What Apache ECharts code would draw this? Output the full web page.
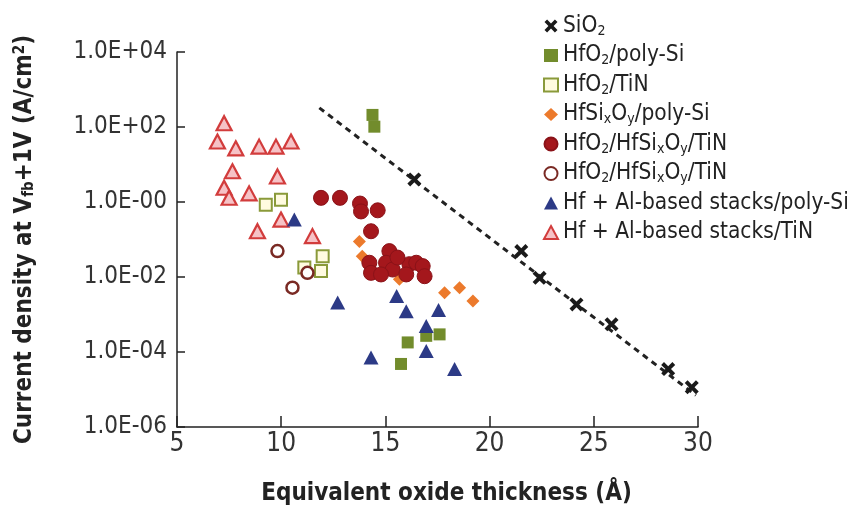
<!DOCTYPE html>
<html>
<head>
<meta charset="utf-8">
<title>Gate leakage vs EOT</title>
<script src="https://cdn.jsdelivr.net/npm/echarts@6/dist/echarts.min.js"></script>
<style>
  html, body { margin: 0; padding: 0; background: #fff; }
  #chart { width: 862px; height: 511px; }
</style>
</head>
<body>
<div id="chart"></div>
<script>
// Equivalent oxide thickness (Å) and current density (A/cm²) for each gate stack
const sio2Eot = [16.39, 21.52, 22.40, 24.17, 25.85, 28.57, 29.70];
const sio2J   = [4.0, 0.049, 0.0095, 0.00186, 5.5e-4, 3.5e-5, 1.15e-5];

// dashed trend line through the SiO2 points
const sio2FitEot = [11.83, 29.9];
const sio2FitJ   = [324, 7e-6];

const hfo2PolyEot = [14.38, 14.47, 16.07, 17.60, 15.75, 16.96];
const hfo2PolyJ   = [210, 102, 1.8e-4, 2.95e-4, 4.8e-5, 2.7e-4];

const hfo2TinEot = [9.26, 9.99, 11.11, 11.99, 11.91];
const hfo2TinJ   = [0.85, 1.15, 0.0178, 0.036, 0.0145];

const hfsioPolyEot = [13.75, 13.89, 15.67, 17.84, 18.56, 19.20];
const hfsioPolyJ   = [0.089, 0.036, 0.0087, 0.0038, 0.0052, 0.0023];

const stackFilledEot = [11.91, 12.82, 13.78, 13.83, 14.63, 14.31, 15.19, 14.23, 14.31,
                        15.03, 15.35, 16.15, 16.48, 16.79, 16.88, 16.00, 14.79, 15.58];
const stackFilledJ   = [1.29, 1.29, 0.91, 0.56, 0.60, 0.166, 0.049, 0.024, 0.0129,
                        0.024, 0.0158, 0.022, 0.024, 0.0195, 0.0105, 0.0117, 0.0117, 0.033];

const stackOpenEot = [9.82, 11.26, 10.54];
const stackOpenJ   = [0.049, 0.0129, 0.0052];

const hfAlPolyEot = [10.63, 12.71, 15.54, 16.00, 17.55, 16.96, 16.96, 14.31, 18.32];
const hfAlPolyJ   = [0.34, 0.0021, 0.0031, 0.00123, 0.00132, 4.9e-4, 1.07e-4, 7.1e-5, 3.5e-5];

const hfAlTinEot = [7.26, 6.94, 7.82, 8.94, 9.75, 10.47, 7.66, 9.82, 7.26, 7.50, 8.46, 9.99, 8.86, 11.50];
const hfAlTinJ   = [126, 41, 27, 30, 30, 41, 6.6, 4.8, 2.4, 1.3, 1.7, 0.34, 0.166, 0.123];

// axis ticks
const eotTicks = [5, 10, 15, 20, 25, 30];
const jTickLabels = ['1.0E-06', '1.0E-04', '1.0E-02', '1.0E-00', '1.0E+02', '1.0E+04'];

// series names and their legend texts (with sub/superscripts)
const seriesNames = [
  'SiO2', 'HfO2/poly-Si', 'HfO2/TiN', 'HfSixOy/poly-Si',
  'HfO2/HfSixOy/TiN A', 'HfO2/HfSixOy/TiN B',
  'Hf + Al-based stacks/poly-Si', 'Hf + Al-based stacks/TiN'
];
const legendTexts = [
  'SiO{s|2}', 'HfO{s|2}/poly-Si', 'HfO{s|2}/TiN', 'HfSi{s|x}O{s|y}/poly-Si',
  'HfO{s|2}/HfSi{s|x}O{s|y}/TiN', 'HfO{s|2}/HfSi{s|x}O{s|y}/TiN',
  'Hf + Al-based stacks/poly-Si', 'Hf + Al-based stacks/TiN'
];

const zip = (xs, ys) => xs.map((x, i) => [x, ys[i]]);
const FONT = "'Liberation Sans Narrow', 'DejaVu Sans Condensed', 'Liberation Sans', sans-serif";
const crossPath = 'path://M0,2L2,0L5,3L8,0L10,2L7,5L10,8L8,10L5,7L2,10L0,8L3,5Z';

const chart = echarts.init(document.getElementById('chart'), null, { renderer: 'canvas' });

chart.setOption({
  animation: false,
  backgroundColor: '#ffffff',
  grid: { left: 177, right: 164, top: 52, bottom: 84, containLabel: false },
  legend: {
    orient: 'vertical',
    left: 538,
    top: 9,
    itemWidth: 14,
    itemHeight: 13,
    itemGap: 5.5,
    data: seriesNames,
    formatter: name => legendTexts[seriesNames.indexOf(name)],
    textStyle: {
      fontFamily: FONT,
      fontSize: 22.5,
      color: '#222',
      lineHeight: 24,
      rich: {
        s: { fontFamily: FONT, fontSize: 14, color: '#222', verticalAlign: 'bottom', lineHeight: 10 }
      }
    }
  },
  xAxis: {
    type: 'value',
    min: 5,
    max: 30,
    interval: 5,
    name: 'Equivalent oxide thickness (Å)',
    nameLocation: 'middle',
    nameGap: 55,
    nameTextStyle: { fontFamily: FONT, fontSize: 24, fontWeight: 'bold', color: '#222', padding: [0, 0, 0, 18] },
    axisLine: { lineStyle: { color: '#222', width: 1.5 } },
    axisTick: { inside: true, length: 11, lineStyle: { color: '#222', width: 1.5 } },
    axisLabel: {
      fontFamily: FONT, fontSize: 26, color: '#333', margin: 4,
      formatter: v => eotTicks.includes(v) ? String(v) : ''
    },
    splitLine: { show: false }
  },
  yAxis: {
    type: 'log',
    logBase: 10,
    min: 1e-6,
    max: 1e4,
    interval: 2,
    name: 'Current density at V{s|fb}+1V (A/cm{p|2})',
    nameLocation: 'middle',
    nameGap: 140,
    nameTextStyle: {
      fontFamily: FONT, fontSize: 24, fontWeight: 'bold', color: '#222',
      rich: {
        s: { fontFamily: FONT, fontSize: 15, fontWeight: 'bold', color: '#222', verticalAlign: 'bottom', lineHeight: 10 },
        p: { fontFamily: FONT, fontSize: 15, fontWeight: 'bold', color: '#222', verticalAlign: 'top', lineHeight: 10 }
      }
    },
    axisLine: { show: true, lineStyle: { color: '#222', width: 1.5 } },
    axisTick: { show: true, inside: true, length: 8, lineStyle: { color: '#222', width: 1.5 } },
    axisLabel: {
      fontFamily: FONT, fontSize: 24, color: '#333', margin: 10,
      formatter: v => {
        const e = Math.round(Math.log10(v));
        const i = (e + 6) / 2;
        return Number.isInteger(i) ? jTickLabels[i] : '';
      }
    },
    splitLine: { show: false },
    minorTick: { show: false }
  },
  series: [
    {
      name: 'SiO2 fit', type: 'line', data: zip(sio2FitEot, sio2FitJ),
      symbol: 'none', silent: true, z: 1,
      lineStyle: { color: '#222', width: 3, type: [6, 5] }
    },
    {
      name: seriesNames[2], type: 'scatter', data: zip(hfo2TinEot, hfo2TinJ),
      symbol: 'rect', symbolSize: 12, z: 2,
      itemStyle: { opacity: 1, color: '#fffbe0', borderColor: '#8a9a3a', borderWidth: 2 }
    },
    {
      name: seriesNames[7], type: 'scatter', data: zip(hfAlTinEot, hfAlTinJ),
      symbol: 'triangle', symbolSize: [15, 14], z: 2,
      itemStyle: { opacity: 1, color: '#f6c2c6', borderColor: '#d23c3c', borderWidth: 2.2 }
    },
    {
      name: seriesNames[3], type: 'scatter', data: zip(hfsioPolyEot, hfsioPolyJ),
      symbol: 'diamond', symbolSize: 13, z: 3,
      itemStyle: { opacity: 1, color: '#ec7a2c' }
    },
    {
      name: seriesNames[4], type: 'scatter', data: zip(stackFilledEot, stackFilledJ),
      symbol: 'circle', symbolSize: 15, z: 4,
      itemStyle: { opacity: 1, color: '#a4171c', borderColor: '#8a1218', borderWidth: 1 }
    },
    {
      name: seriesNames[5], type: 'scatter', data: zip(stackOpenEot, stackOpenJ),
      symbol: 'circle', symbolSize: 12, z: 5,
      itemStyle: { opacity: 1, color: '#ffffff', borderColor: '#7a2a24', borderWidth: 2.5 }
    },
    {
      name: seriesNames[1], type: 'scatter', data: zip(hfo2PolyEot, hfo2PolyJ),
      symbol: 'rect', symbolSize: 12, z: 5,
      itemStyle: { opacity: 1, color: '#728c2c' }
    },
    {
      name: seriesNames[6], type: 'scatter', data: zip(hfAlPolyEot, hfAlPolyJ),
      symbol: 'triangle', symbolSize: [15, 14], z: 6,
      itemStyle: { opacity: 1, color: '#2c3a86' }
    },
    {
      name: seriesNames[0], type: 'scatter', data: zip(sio2Eot, sio2J),
      symbol: crossPath, symbolSize: 14, z: 7,
      itemStyle: { opacity: 1, color: '#1a1a1a' }
    }
  ]
});
</script>
</body>
</html>
